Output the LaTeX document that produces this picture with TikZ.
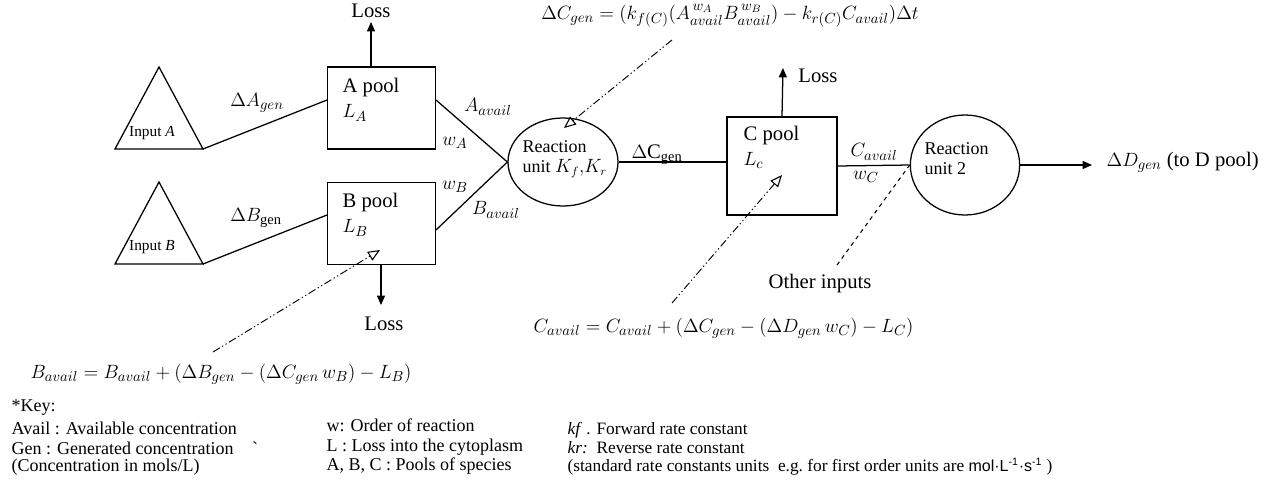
\documentclass[tikz,border=0pt]{standalone}
\usepackage{fontspec}
\setmainfont{Liberation Serif}
\newfontfamily\unitsans{Liberation Sans}
\usetikzlibrary{shapes.geometric,arrows.meta,calc}
\begin{document}
\begin{tikzpicture}[x=0.75pt,y=-0.75pt,
  line width=0.95pt,
  pool/.style={draw,rectangle,minimum width=81.5pt,minimum height=61.5pt,inner sep=0pt},
  unit/.style={draw,ellipse,inner sep=0pt},
  big/.style={font=\fontsize{15.5}{17}\selectfont,inner sep=0pt},
  mid/.style={font=\fontsize{13.5}{15}\selectfont,inner sep=0pt,align=left},
  small/.style={font=\fontsize{11.5}{13}\selectfont,inner sep=0pt},
  keyt/.style={font=\rmfamily\fontsize{13.5}{15}\selectfont,inner sep=0pt,anchor=west},
  keyr/.style={font=\rmfamily\fontsize{13}{15}\selectfont,inner sep=0pt,anchor=west},
  eq/.style={font=\fontsize{15.5}{17}\selectfont,inner sep=0pt},
  arr/.style={-{Triangle[length=7pt,width=6pt]}},
  dd/.style={dash pattern=on 6pt off 2pt on 1pt off 2pt on 1pt off 2pt,line width=0.7pt,-{Triangle[open,length=9pt,width=7.5pt,line width=0.8pt]}},
  dsh/.style={dashed,line width=0.8pt}]
\useasboundingbox (0,0) rectangle (1278,482);
% triangles
\coordinate (tAa) at (159,67); \coordinate (tAl) at (115,149); \coordinate (tAr) at (203,149);
\coordinate (tBa) at (159,182); \coordinate (tBl) at (115,264); \coordinate (tBr) at (203,264);
\draw (tAa) -- (tAl) -- (tAr) -- cycle;
\draw (tBa) -- (tBl) -- (tBr) -- cycle;
\node[small] (inA) at (152,133) {Input \textit{A}};
\node[small] (inB) at (152,247) {Input \textit{B}};
% pools
\node[pool] (apool) at (381.5,108) {};
\node[pool] (bpool) at (381.5,223.5) {};
\node[pool,minimum width=82.5pt,minimum height=73.5pt] (cpool) at (782,166) {};
\node[big,anchor=west] (at) at (342,88) {A pool};
\node[big,anchor=west] (al) at (342,113) {$L_A$};
\node[big,anchor=west] (bt) at (342,203) {B pool};
\node[big,anchor=west] (bl) at (342,228) {$L_B$};
\node[big,anchor=west] (ct) at (743,136) {C pool};
\node[big,anchor=west] (cl) at (743,160) {$L_c$};
% reaction units
\node[unit,minimum width=82.5pt,minimum height=66pt] (r1) at (563,162) {};
\node[unit,minimum width=82pt,minimum height=75pt] (r2) at (965,165) {};
\node[mid,anchor=west] (r1t) at (522,159) {Reaction\\unit $K_f{,}K_r$};
\node[mid,anchor=west] (r2t) at (924,159) {Reaction\\unit 2};
% connectors
\coordinate (aIn) at (327,100); \coordinate (bIn) at (327,215);
\coordinate (aOut) at (436,100); \coordinate (bOut) at (436,230);
\draw (tAr) -- (aIn);
\draw (tBr) -- (bIn);
\draw (aOut) -- (r1.west);
\draw (bOut) -- (r1.west);
\draw (r1.east) -- (r1.east -| cpool.west);
\draw (cpool.east) -- (r2.west);
\node[big,anchor=west] (dout) at (1106,162) {$\Delta D_{gen}$ (to D pool)};
\coordinate (dEnd) at (1092,165);
\draw[arr] (r2.east) -- (dEnd);
% losses
\node[big] (lossA) at (371,11) {Loss};
\node[big] (lossB) at (384,324) {Loss};
\node[big] (lossC) at (818,76) {Loss};
\coordinate (laS) at (371,67); \coordinate (laE) at (371,22);
\coordinate (lbS) at (381,265); \coordinate (lbE) at (381,305);
\coordinate (lcE) at (783,68);
\draw[arr] (laS) -- (laE);
\draw[arr] (lbS) -- (lbE);
\draw[arr] (cpool.north) -- (lcE);
% labels
\node[big] (dag) at (257,103) {$\Delta A_{gen}$};
\node[big] (dbg) at (256,218) {$\Delta B_{\mathrm{gen}}$};
\node[big] (aav) at (488,107) {$A_{avail}$};
\node[big] (wa) at (455,143) {$w_A$};
\node[big] (wb) at (455,187) {$w_B$};
\node[big] (bav) at (496,210) {$B_{avail}$};
\node[big] (dcg) at (657,155) {$\Delta\mathrm{C}_{\mathrm{gen}}$};
\node[big] (cav) at (874,152) {$C_{avail}$};
\node[big] (wc) at (866,177) {$w_C$};
\node[big] (oth) at (820,284) {Other inputs};
\coordinate (othEnd) at (837,265);
\draw[dsh] (othEnd) -- (r2.west);
% equations
\node[eq] (eqtop) at (730,16) {$\Delta C_{gen} = (k_{f(C)}(A_{avail}^{\,w_A}B_{avail}^{\,w_B}) - k_{r(C)}C_{avail})\Delta t$};
\node[eq,anchor=west] (eqc) at (533,328) {$C_{avail} = C_{avail} + (\Delta C_{gen} - (\Delta D_{gen}\,w_C) - L_C)$};
\node[eq,anchor=west] (eqb) at (30,374) {$B_{avail} = B_{avail} + (\Delta B_{gen} - (\Delta C_{gen}\,w_B) - L_B)$};
\coordinate (p1s) at (672,40); \coordinate (p1e) at (564,128);
\coordinate (p2s) at (672,303); \coordinate (p2e) at (782,175);
\coordinate (p3s) at (213,352); \coordinate (p3e) at (380,250);
\draw[dd] (p1s) -- (p1e);
\draw[dd] (p2s) -- (p2e);
\draw[dd] (p3s) -- (p3e);
% key
\node[keyt] (k0) at (11,408) {*Key:};
\node[keyt] (k1) at (11,428) {Avail : Available concentration};
\node[keyt] (k2) at (11,448) {Gen : Generated concentration\hspace{14pt}\textasciigrave};
\node[keyt] (k3) at (11,467) {(Concentration in mols/L)};
\node[keyt] (k4) at (326,425) {w: Order of reaction};
\node[keyt] (k5) at (326,447) {L : Loss into the cytoplasm};
\node[keyt] (k6) at (326,466) {A, B, C : Pools of species};
\node[keyr] (k7) at (567,430) {\textit{kf} . Forward rate constant};
\node[keyr] (k8) at (567,448) {\textit{kr:}\, Reverse rate constant};
\node[keyr] (k9) at (567,467) {(standard rate constants units\ \ e.g.\ for first order units are {\unitsans\fontsize{12}{14}\selectfont mol·L\textsuperscript{-1}·s\textsuperscript{-1}} )};
\end{tikzpicture}
\end{document}
